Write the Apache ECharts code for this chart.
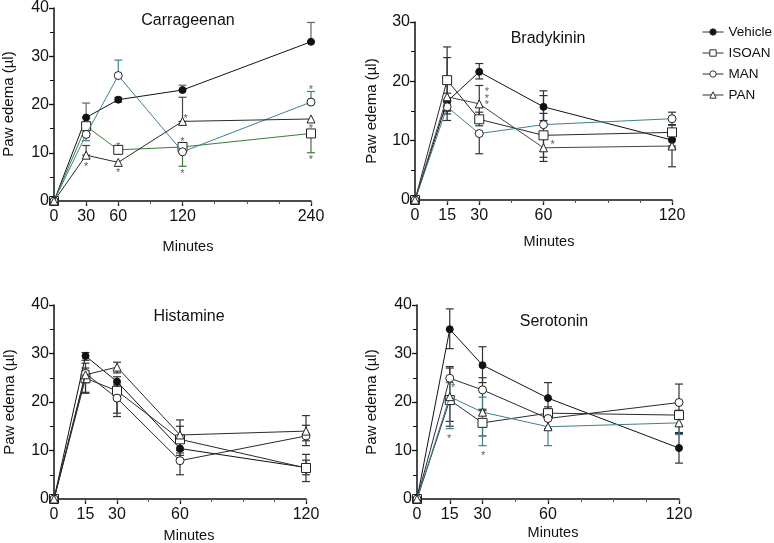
<!DOCTYPE html>
<html>
<head>
<meta charset="utf-8">
<script src="https://cdn.jsdelivr.net/npm/echarts@6/dist/echarts.min.js"></script>
<style>html,body{margin:0;padding:0;background:#fff;}#c{width:774px;height:543px;}</style>
</head>
<body>
<div id="c"></div>
<script>
// ---------- DATA ----------
const seriesNames = ['Vehicle', 'ISOAN', 'MAN', 'PAN'];

// Carrageenan
const carrMinutes = [0, 30, 60, 120, 240];
const carrVehicle = [0, 17.3, 21, 23, 33];
const carrIsoan   = [0, 15.5, 10.6, 11.2, 14];
const carrMan     = [0, 13.8, 26, 10.2, 20.5];
const carrPan     = [0, 9.5, 8, 16.5, 17];
const carrVehicleErr = [[0,0],[17.3,20.3],[20.5,21.5],[23,24],[33,37]];
const carrIsoanErr   = [[0,0],[15,16],[10.6,11.4],[7.2,12.1],[10,14]];
const carrManErr     = [[0,0],[12.5,13.8],[26,29.2],[10.2,10.2],[20.5,22.7]];
const carrPanErr     = [[0,0],[9.5,11.5],[8,8],[16.5,21.5],[17,17]];
const carrStars = [[30,7.6],[60,11.8],[60,6.4],[123,17.6],[120,12.9],[120,6.2],[240,23.6],[240,15.5],[240,9.1]];

// Bradykinin
const bradyMinutes = [0, 15, 30, 60, 120];
const bradyVehicle = [0, 16.6, 21.6, 15.7, 10.1];
const bradyIsoan   = [0, 20.2, 13.6, 10.9, 11.4];
const bradyMan     = [0, 15.7, 11.2, 12.7, 13.7];
const bradyPan     = [0, 17.4, 16.2, 8.8, 9.1];
const bradyVehicleErr = [[0,0],[15,18],[20.4,23],[13.4,18.4],[8.8,11.4]];
const bradyIsoanErr   = [[0,0],[14.5,25.8],[12.5,14.8],[7.2,14.6],[10.3,12.7]];
const bradyManErr     = [[0,0],[15,16.5],[7.8,11.2],[11,17.6],[12.6,14.8]];
const bradyPanErr     = [[0,0],[13.4,24],[14,19.3],[6.5,11],[5.6,9.1]];
const bradyStars = [[33.6,18.7],[33.6,17.6],[33.6,16.5],[64.3,9.8]];

// Histamine
const histMinutes = [0, 15, 30, 60, 120];
const histVehicle = [0, 29.5, 24.2, 10.4, 6.5];
const histIsoan   = [0, 24.9, 22.3, 12.3, 6.4];
const histMan     = [0, 25.9, 20.8, 7.9, 13];
const histPan     = [0, 25.6, 27.2, 13.2, 14];
const histVehicleErr = [[0,0],[28.6,30.2],[23,25.2],[9,11.8],[5,8]];
const histIsoanErr   = [[0,0],[22,27],[17,23.5],[10,15],[3.6,9.2]];
const histManErr     = [[0,0],[21.8,26.5],[17.7,21.5],[5,9.5],[11,15.2]];
const histPanErr     = [[0,0],[24,28],[26,28.2],[11.5,16.3],[12,17.2]];
const histStars = [];

// Serotonin
const seroMinutes = [0, 15, 30, 60, 120];
const seroVehicle = [0, 35, 27.6, 20.8, 10.5];
const seroIsoan   = [0, 20.4, 15.7, 17.7, 17.3];
const seroMan     = [0, 24.9, 22.5, 16.6, 19.9];
const seroPan     = [0, 21.1, 17.9, 14.9, 15.7];
const seroVehicleErr = [[0,0],[31,39.2],[24,31.4],[18,24],[7.4,13.7]];
const seroIsoanErr   = [[0,0],[15,27],[13,18.2],[16.5,19],[13.5,18.3]];
const seroManErr     = [[0,0],[16,27.3],[18.5,25],[14.5,18.5],[17,23.7]];
const seroPanErr     = [[0,0],[14.5,24],[11,21],[11,18],[13.3,17]];
const seroStars = [[16.5,23.5],[14.7,13],[30.3,9.5]];

// ticks
const carrTicks = [0, 30, 60, 120, 240];
const shortTicks = [0, 15, 30, 60, 120];

// ---------- STYLE ----------
const BLACK = '#111';
const DARK = '#2a2a2a';
const TEAL = '#3f7f92';
const GREEN = '#3a7b3a';
const FONT = 'Liberation Sans, Arial, Helvetica, sans-serif';

const panels = [
  { title: 'Carrageenan', x: carrMinutes, max: 240, ymax: 40, xTicks: carrTicks, minor: 30,
    grid: {left: 54, top: 7, width: 257, height: 194},
    data: [carrVehicle, carrIsoan, carrMan, carrPan],
    err: [carrVehicleErr, carrIsoanErr, carrManErr, carrPanErr],
    colors: [BLACK, GREEN, TEAL, DARK], errColors: ['#666', GREEN, TEAL, '#444'],
    stars: carrStars,
    titlePos: [188, 21], xnamePos: [188, 247], ynamePos: [9, 104] },
  { title: 'Bradykinin', x: bradyMinutes, max: 120, ymax: 30, xTicks: shortTicks, minor: 15,
    grid: {left: 415, top: 22, width: 257, height: 178},
    data: [bradyVehicle, bradyIsoan, bradyMan, bradyPan],
    err: [bradyVehicleErr, bradyIsoanErr, bradyManErr, bradyPanErr],
    colors: [BLACK, DARK, TEAL, '#444'], errColors: ['#333', '#333', '#333', '#333'],
    stars: bradyStars,
    titlePos: [548, 39], xnamePos: [549, 242], ynamePos: [372, 111] },
  { title: 'Histamine', x: histMinutes, max: 120, ymax: 40, xTicks: shortTicks, minor: 15,
    grid: {left: 54, top: 305, width: 252, height: 194},
    data: [histVehicle, histIsoan, histMan, histPan],
    err: [histVehicleErr, histIsoanErr, histManErr, histPanErr],
    colors: [BLACK, DARK, DARK, DARK], errColors: ['#333', '#333', '#333', '#333'],
    stars: histStars,
    titlePos: [189, 317], xnamePos: [189, 536], ynamePos: [10, 402] },
  { title: 'Serotonin', x: seroMinutes, max: 120, ymax: 40, xTicks: shortTicks, minor: 15,
    grid: {left: 417, top: 305, width: 262, height: 194},
    data: [seroVehicle, seroIsoan, seroMan, seroPan],
    err: [seroVehicleErr, seroIsoanErr, seroManErr, seroPanErr],
    colors: [BLACK, DARK, DARK, TEAL], errColors: ['#333', '#333', '#333', TEAL],
    stars: seroStars,
    titlePos: [554, 322], xnamePos: [553, 533], ynamePos: [372, 402] }
];

const symbols = ['circle', 'rect', 'circle', 'triangle'];
const symSizes = [7, 9, 8, 8];

const grids = [], xAxes = [], yAxes = [], series = [], graphics = [];

panels.forEach((p, gi) => {
  grids.push(Object.assign({}, p.grid));
  xAxes.push({
    type: 'value', gridIndex: gi, min: 0, max: p.max,
    axisLine: {show: true, lineStyle: {color: BLACK, width: 1.5}},
    axisTick: {show: true, customValues: p.xTicks, length: 5, lineStyle: {color: BLACK, width: 1.3}},
    axisLabel: {show: true, customValues: p.xTicks, fontSize: 16, fontFamily: FONT, color: BLACK, margin: 8},
    splitLine: {show: false}
  });
  xAxes.push({
    type: 'value', gridIndex: gi, min: 0, max: p.max, interval: p.minor, position: 'bottom',
    axisLine: {show: false},
    axisTick: {show: true, length: 3, lineStyle: {color: '#555', width: 1}},
    axisLabel: {show: false}, splitLine: {show: false}
  });
  yAxes.push({
    type: 'value', gridIndex: gi, min: 0, max: p.ymax, interval: 10,
    axisLine: {show: true, lineStyle: {color: BLACK, width: 1.5}},
    axisTick: {show: true, length: 5, lineStyle: {color: BLACK, width: 1.3}},
    minorTick: {show: true, splitNumber: 2, length: 4, lineStyle: {color: BLACK, width: 1}},
    axisLabel: {fontSize: 16, fontFamily: FONT, color: BLACK, margin: 5},
    splitLine: {show: false}
  });

  p.err.forEach((e, si) => {
    const col = p.errColors[si];
    series.push({
      type: 'custom', name: 'err' + gi + '_' + si, xAxisIndex: gi * 2, yAxisIndex: gi, z: 1,
      data: p.x.map((xv, i) => [xv, e[i][0], e[i][1]]),
      encode: {x: 0, y: [1, 2]},
      silent: true,
      renderItem: function (params, api) {
        const xv = api.value(0), lo = api.value(1), hi = api.value(2);
        if (hi - lo <= 0) return null;
        const a = api.coord([xv, lo]), b = api.coord([xv, hi]);
        const w = 4;
        const st = {stroke: col, lineWidth: 1.2};
        return {type: 'group', children: [
          {type: 'line', shape: {x1: a[0], y1: a[1], x2: b[0], y2: b[1]}, style: st},
          {type: 'line', shape: {x1: a[0] - w, y1: a[1], x2: a[0] + w, y2: a[1]}, style: st},
          {type: 'line', shape: {x1: b[0] - w, y1: b[1], x2: b[0] + w, y2: b[1]}, style: st}
        ]};
      }
    });
  });

  p.data.forEach((d, si) => {
    const col = p.colors[si];
    series.push({
      type: 'line', name: seriesNames[si], xAxisIndex: gi * 2, yAxisIndex: gi, z: 3 + si,
      data: p.x.map((xv, i) => [xv, d[i]]),
      symbol: symbols[si], symbolSize: symSizes[si], showAllSymbol: true,
      lineStyle: {color: col, width: 1},
      itemStyle: {color: si === 0 ? BLACK : '#fff', borderColor: si === 0 ? BLACK : '#222', borderWidth: 1},
      emphasis: {disabled: true}, animation: false
    });
  });

  series.push({
    type: 'scatter', name: 'stars' + gi, xAxisIndex: gi * 2, yAxisIndex: gi, z: 10,
    data: p.stars, symbolSize: 1, itemStyle: {color: 'rgba(0,0,0,0)'},
    label: {show: true, formatter: '*', position: 'inside', fontSize: 11, fontFamily: FONT, color: '#333', offset: [0, 3]},
    silent: true
  });

  graphics.push({type: 'text', x: p.titlePos[0], y: p.titlePos[1],
    style: {text: p.title, font: '16px ' + FONT, fill: BLACK, align: 'center', verticalAlign: 'middle'}});
  graphics.push({type: 'text', x: p.xnamePos[0], y: p.xnamePos[1],
    style: {text: 'Minutes', font: '14.5px ' + FONT, fill: BLACK, align: 'center', verticalAlign: 'middle'}});
  graphics.push({type: 'text', x: p.ynamePos[0], y: p.ynamePos[1], rotation: Math.PI / 2,
    style: {text: 'Paw edema (µl)', font: '15px ' + FONT, fill: BLACK, align: 'center', verticalAlign: 'middle'}});
});

const chart = echarts.init(document.getElementById('c'), null, {renderer: 'canvas'});
chart.setOption({
  animation: false,
  backgroundColor: '#fff',
  grid: grids, xAxis: xAxes, yAxis: yAxes, series: series, graphic: graphics,
  legend: {
    orient: 'vertical', left: 697, top: 20, itemWidth: 21, itemHeight: 8, itemGap: 7,
    textStyle: {fontSize: 13.5, fontFamily: FONT, color: BLACK},
    selectedMode: false,
    data: seriesNames.map((n, i) => ({
      name: n,
      itemStyle: {color: i === 0 ? BLACK : '#fff', borderColor: '#333', borderWidth: 1},
      lineStyle: {color: '#333', width: 1}
    }))
  }
});
</script>
</body>
</html>
